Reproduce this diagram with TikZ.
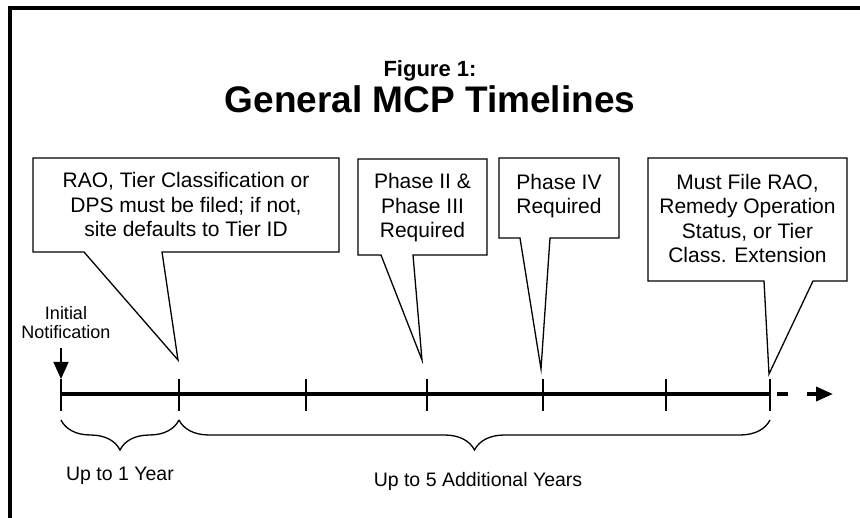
\documentclass[tikz,border=0pt]{standalone}
\usepackage{fontspec}
\setmainfont{Liberation Sans}
\usetikzlibrary{arrows.meta,decorations.pathreplacing}
\begin{document}
\begin{tikzpicture}[x=1pt,y=-1pt,
  callout/.style={draw=black,line width=1.3pt,fill=white,line join=miter},
  ctext/.style={align=center,inner sep=0pt,anchor=base,font=\fontsize{21}{24.5}\selectfont},
  tickmark/.style={line width=1.3pt},
  bracestyle/.style={decorate,decoration={brace,mirror,amplitude=30pt},line width=1.3pt},
  lbl/.style={inner sep=0pt,anchor=base,font=\fontsize{19.5}{23}\selectfont}]
\useasboundingbox (0,0) rectangle (860,518);
% frame
\draw[line width=4pt] (10,520) -- (10,8) -- (862,8);
% title
\node[inner sep=0pt,anchor=base,font=\bfseries\fontsize{22}{26}\selectfont] (fig) at (430,77) {Figure 1:};
\node[inner sep=0pt,anchor=base,font=\bfseries\fontsize{37}{44}\selectfont] (title) at (430,113) {General MCP Timelines};
% timeline points
\coordinate (t0) at (61,394);
\coordinate (t1) at (179,394);
\coordinate (t2) at (306,394);
\coordinate (t3) at (427,394);
\coordinate (t4) at (543,394);
\coordinate (t5) at (666,394);
\coordinate (t6) at (770,394);
\coordinate (d1) at (777,394);
\coordinate (d2) at (788,394);
\coordinate (d3) at (807,394);
\coordinate (tend) at (833,394);
\draw[line width=4pt] (t0) -- (t6);
\foreach \t in {t0,t1,t2,t3,t4,t5,t6}{
  \draw[tickmark] (\t) ++(0,-15) -- ++(0,32);
}
\draw[line width=3.5pt] (d1) -- (d2);
\draw[line width=3.5pt,-{Triangle[length=17pt,width=14pt]}] (d3) -- (tend);
% initial notification
\node[align=center,inner sep=0pt,anchor=base,font=\fontsize{18}{19.5}\selectfont] (init) at (66,339) {Initial\\Notification};
\coordinate (initA) at (61,348);
\draw[line width=1.3pt,-{Triangle[length=17pt,width=15pt]}] (initA) -- ([yshift=15pt]t0);
% callouts
\draw[callout] (33,158) -- (339,158) -- (339,252) -- (162,252) -- (178,360) -- (84,252) -- (33,252) -- cycle;
\node[ctext] (c1) at (186,237) {RAO, Tier Classification or\\DPS must be filed; if not,\\site defaults to Tier ID};
\draw[callout] (358,159) -- (487,159) -- (487,255) -- (413,255) -- (422,360) -- (381,255) -- (358,255) -- cycle;
\node[ctext] (c2) at (422.5,238) {Phase II \&\\Phase III\\Required};
\draw[callout] (499,158) -- (619,158) -- (619,238) -- (550,238) -- (541,369) -- (520,238) -- (499,238) -- cycle;
\node[ctext] (c3) at (559,214) {Phase IV\\Required};
\draw[callout] (648,158) -- (847,158) -- (847,281) -- (813,281) -- (769,374) -- (764,281) -- (648,281) -- cycle;
\node[ctext] (c4) at (747.5,263) {Must File RAO,\\Remedy Operation\\Status, or Tier\\Class. Extension};
% braces
\draw[bracestyle] (61,420) -- (179,420);
\draw[bracestyle] (179,420) -- (770,420);
\node[lbl] (l1) at (120,481) {Up to 1 Year};
\node[lbl] (l2) at (478,486) {Up to 5 Additional Years};
\end{tikzpicture}
\end{document}
